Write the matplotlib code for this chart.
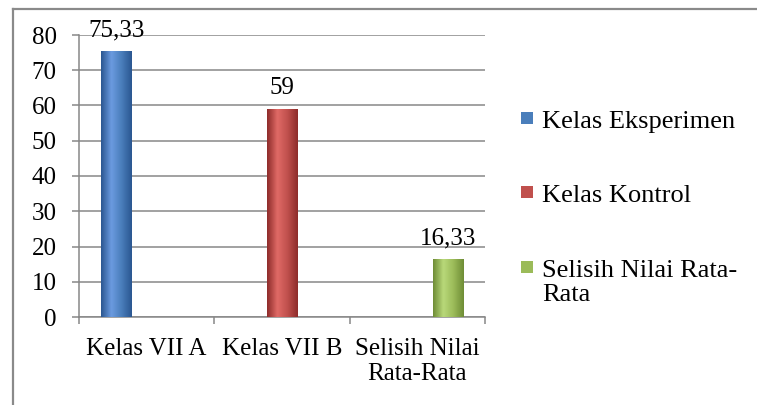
import matplotlib.pyplot as plt
import numpy as np
from matplotlib.colors import LinearSegmentedColormap
from matplotlib.lines import Line2D
from matplotlib.patches import Rectangle

categories = ["Kelas VII A", "Kelas VII B", "Selisih Nilai\nRata-Rata"]
series_names = ["Kelas Eksperimen", "Kelas Kontrol", "Selisih Nilai Rata-\nRata"]
series_values = [
    [75.33, 0, 0],
    [0, 59, 0],
    [0, 0, 16.33],
]
value_labels = ["75,33", "59", "16,33"]
colors = ["#4a7ebb", "#c0504d", "#9bbb59"]
shades = [
    ("#2b5791", "#6b9be0"),
    ("#8e2c2a", "#e06a66"),
    ("#6f8d36", "#b9d97a"),
]

plt.rcParams["font.family"] = ["Liberation Serif", "DejaVu Serif"]

W, H = 757, 405
fig = plt.figure(figsize=(W / 100, H / 100), dpi=100)
ax = fig.add_axes([79 / W, 1 - 317 / H, (485 - 79) / W, (317 - 35) / H])

# outer chart border (only left/top visible in the reference)
fig.add_artist(Line2D([13 / W, 13 / W], [0, 1 - 9 / H], color="#8a8a8a", lw=1.6))
fig.add_artist(Line2D([13 / W, 1], [1 - 9 / H, 1 - 9 / H], color="#8a8a8a", lw=1.6))

x = np.arange(len(categories))
width = 0.225
offsets = [-width, 0, width]

for i, vals in enumerate(series_values):
    bars = ax.bar(x + offsets[i], vals, width, color=colors[i], edgecolor="none",
                  label=series_names[i], zorder=3)
    cmap = LinearSegmentedColormap.from_list(f"g{i}", [shades[i][0], shades[i][1], colors[i], shades[i][0]])
    grad = np.linspace(0, 1, 64).reshape(1, -1)
    for b, v in zip(bars, vals):
        if v <= 0:
            continue
        x0, w, h = b.get_x(), b.get_width(), b.get_height()
        im = ax.imshow(grad, cmap=cmap, aspect="auto", extent=[x0, x0 + w, 0, h],
                       zorder=3.5, interpolation="bicubic")
        im.set_clip_path(b)
        ax.annotate(value_labels[i], (b.get_x() + w / 2, v), xytext=(0, 11),
                    textcoords="offset points", ha="center", va="baseline",
                    fontsize=18, zorder=5)

ax.set_xlim(-0.5, 2.5)
ax.set_ylim(0, 80)
ax.set_yticks(range(0, 81, 10))
ax.yaxis.grid(True, color="#878787", lw=1.1, zorder=1)
ax.set_axisbelow(True)

ax.set_xticks([-0.5, 0.5, 1.5, 2.5])
ax.set_xticklabels([])
ax.set_xticks(x, minor=True)
ax.set_xticklabels(categories, minor=True, fontsize=18, linespacing=1.2)
ax.tick_params(axis="x", which="minor", length=0, pad=15)
ax.tick_params(axis="x", which="major", length=5, width=1.1, color="#878787", direction="out")
ax.tick_params(axis="y", length=5, width=1.1, color="#878787", labelsize=18, pad=11)

for side in ["top", "right"]:
    ax.spines[side].set_visible(False)
for side in ["left", "bottom"]:
    ax.spines[side].set_color("#878787")
    ax.spines[side].set_linewidth(1.1)

# legend, drawn by hand so the marker sits on the first line of a wrapped label
baselines = [128, 202, 277]
for name, c, yb in zip(series_names, colors, baselines):
    fig.add_artist(Rectangle((521 / W, 1 - (yb - 4) / H), 12 / W, 12 / H,
                             transform=fig.transFigure, facecolor=c, edgecolor="none"))
    for k, line in enumerate(name.split("\n")):
        fig.text(542 / W, 1 - (yb + 24 * k) / H, line, fontsize=19,
                 va="baseline", ha="left")

fig.savefig("out.png", dpi=100)
